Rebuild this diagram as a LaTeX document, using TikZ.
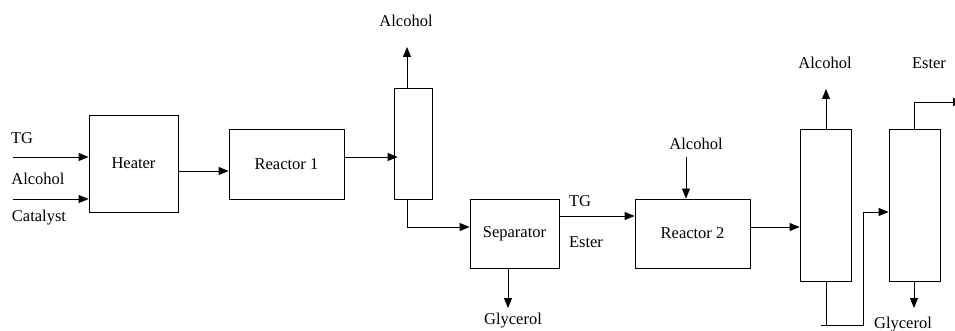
\documentclass[tikz,border=0pt]{standalone}
\usepackage{fontspec}
\setmainfont{Liberation Serif}
\usetikzlibrary{arrows.meta}
\begin{document}
\begin{tikzpicture}[x=1pt,y=-1pt,line width=0.8pt,
  box/.style={draw,inner sep=0pt,font=\fontsize{16.5}{18}\selectfont},
  lbl/.style={inner sep=0pt,font=\fontsize{16.5}{18}\selectfont},
  arr/.style={-{Triangle[length=10pt,width=8pt]}}]
\useasboundingbox (0,0) rectangle (955,331);
% units
\node[box,minimum width=89pt,minimum height=97pt] (heater) at (133.5,163.5) {Heater};
\node[box,minimum width=115pt,minimum height=70pt] (r1) at (286.5,164) {Reactor 1};
\node[box,minimum width=38pt,minimum height=111pt] (col1) at (413,143.5) {};
\node[box,minimum width=89pt,minimum height=69pt] (sep) at (514.5,233.5) {Separator};
\node[box,minimum width=115pt,minimum height=69pt] (r2) at (692.5,233.5) {Reactor 2};
\node[box,minimum width=51pt,minimum height=152pt] (col2) at (825.5,205) {};
\node[box,minimum width=51pt,minimum height=152pt] (col3) at (914.5,205) {};
% labels
\node[lbl] (ltg) at (22,138) {TG};
\node[lbl] (lalc) at (38,179) {Alcohol};
\node[lbl] (lcat) at (39,218) {Catalyst};
\node[lbl] (lalc1) at (406,21) {Alcohol};
\node[lbl] (lgly1) at (513,321) {Glycerol};
\node[lbl] (ltg2) at (580,201) {TG};
\node[lbl] (lest2) at (586,242) {Ester};
\node[lbl] (lalc2) at (696,144) {Alcohol};
\node[lbl] (lalc3) at (825,63) {Alcohol};
\node[lbl] (lest3) at (929,63) {Ester};
\node[lbl] (lgly2) at (903,325) {Glycerol};
% free ends
\coordinate (tgin) at (13,157);
\coordinate (alcin) at (13,199);
\coordinate (c1top) at (407,47);
\coordinate (c1bot) at (407,227);
\coordinate (g1end) at (508,308);
\coordinate (alc2in) at (686,157);
\coordinate (c2top) at (826,89);
\coordinate (c2bot) at (826,325);
\coordinate (pipeL) at (821,325);
\coordinate (pipeR) at (863,325);
\coordinate (pipeU) at (863,212);
\coordinate (c3top) at (914,102);
\coordinate (estout) at (963,102);
\coordinate (g2end) at (914,308);
% connectors
\draw[arr] (tgin) -- (tgin -| heater.west);
\draw[arr] (alcin) -- (alcin -| heater.west);
\draw[arr] (heater.east |- 0,171) -- (r1.west |- 0,171);
\draw[arr,shorten >=-4pt] (r1.east |- 0,157) -- (col1.west |- 0,157);
\draw[arr] (col1.north -| c1top) -- (c1top);
\draw[arr] (col1.south -| c1bot) -- (c1bot) -- (sep.west |- c1bot);
\draw[arr] (sep.south -| g1end) -- (g1end);
\draw[arr] (sep.east |- 0,216) -- (r2.west |- 0,216);
\draw[arr] (alc2in) -- (r2.north -| alc2in);
\draw[arr] (r2.east |- 0,227) -- (col2.west |- 0,227);
\draw[arr] (col2.north -| c2top) -- (c2top);
\draw (col2.south -| c2bot) -- (c2bot);
\draw[arr] (pipeL) -- (pipeR) -- (pipeU) -- (col3.west |- pipeU);
\draw[arr] (col3.north -| c3top) -- (c3top) -- (estout);
\draw[arr] (col3.south -| g2end) -- (g2end);
\end{tikzpicture}
\end{document}
